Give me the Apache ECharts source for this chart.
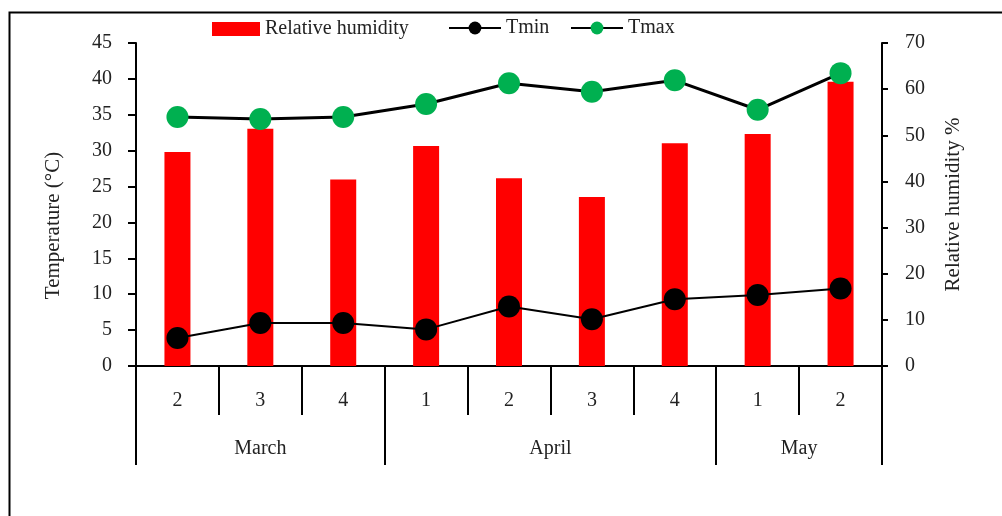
<!DOCTYPE html>
<html>
<head>
<meta charset="utf-8">
<script src="https://cdn.jsdelivr.net/npm/echarts@6/dist/echarts.min.js"></script>
<style>html,body{margin:0;padding:0;background:#fff;}#c{width:1002px;height:516px;}</style>
</head>
<body>
<div id="c"></div>
<script>
// ---- data ----
var weeks = ['2', '3', '4', '1', '2', '3', '4', '1', '2'];
var monthNames = ['March', 'April', 'May'];
var monthWeekCounts = [3, 4, 2];
var humidity = [46.4, 51.4, 40.4, 47.7, 40.7, 36.6, 48.3, 50.3, 61.6];
var tmin = [3.9, 6.0, 6.0, 5.1, 8.3, 6.5, 9.3, 9.9, 10.8];
var tmax = [34.7, 34.4, 34.7, 36.5, 39.4, 38.2, 39.8, 35.7, 40.8];
var tempTicks = [0, 5, 10, 15, 20, 25, 30, 35, 40, 45];
var humTicks = [0, 10, 20, 30, 40, 50, 60, 70];

// month group boundaries / centers in category units
var bounds = [0], centers = [];
monthWeekCounts.forEach(function (n, i) {
  var s = bounds[bounds.length - 1];
  bounds.push(s + n);
  centers.push(s + n / 2);
});
function monthLabel(v) {
  for (var i = 0; i < centers.length; i++) if (Math.abs(centers[i] - v) < 1e-6) return monthNames[i];
  return '';
}

var FONT = 'Liberation Serif';
var TXT = '#222';
var FS = 20;
var chart = echarts.init(document.getElementById('c'), null, { renderer: 'canvas' });
chart.setOption({
  animation: false,
  textStyle: { fontFamily: FONT, color: TXT },
  graphic: [{
    type: 'rect', left: 7, top: 10, z: 100,
    shape: { width: 1100, height: 600 },
    style: { fill: 'none', stroke: '#000', lineWidth: 2 }
  }],
  legend: [
    { left: 212, top: 19, padding: 0, itemWidth: 48, itemHeight: 14, itemGap: 5,
      icon: 'rect', itemStyle: { borderWidth: 0 },
      textStyle: { fontFamily: FONT, fontSize: FS, color: TXT }, data: ['Relative humidity'] },
    { left: 448, top: 18, padding: 0, itemWidth: 52, itemHeight: 16,
      textStyle: { fontFamily: FONT, fontSize: FS, color: TXT }, data: ['Tmin'] },
    { left: 570, top: 18, padding: 0, itemWidth: 52, itemHeight: 16,
      itemStyle: { borderWidth: 0 },
      textStyle: { fontFamily: FONT, fontSize: FS, color: TXT }, data: ['Tmax'] }
  ],
  grid: { left: 136, right: 120, top: 43, bottom: 150 },
  xAxis: [{
    type: 'category', data: weeks, position: 'bottom',
    axisLine: { show: true, lineStyle: { color: '#000', width: 2 } },
    axisTick: { show: true, interval: 0, length: 49, lineStyle: { color: '#000', width: 2 } },
    axisLabel: { interval: 0, margin: 25, fontSize: FS, fontFamily: FONT, color: TXT }
  }, {
    type: 'value', min: bounds[0], max: bounds[bounds.length - 1], position: 'bottom',
    axisLine: { show: false },
    splitLine: { show: false },
    axisTick: { show: true, customValues: bounds, length: 99, lineStyle: { color: '#000', width: 2 } },
    axisLabel: { customValues: centers, formatter: monthLabel, margin: 73, fontSize: FS, fontFamily: FONT, color: TXT }
  }],
  yAxis: [{
    type: 'value', min: 0, max: 45, interval: 5, position: 'left',
    name: 'Temperature (°C)', nameLocation: 'middle', nameGap: 72,
    nameTextStyle: { fontSize: 21, fontFamily: FONT, color: TXT, padding: [0, 42, 0, 0] },
    axisLine: { show: true, lineStyle: { color: '#000', width: 2 } },
    axisTick: { show: true, length: 8, lineStyle: { color: '#000', width: 2 } },
    axisLabel: { margin: 24, fontSize: FS, fontFamily: FONT, color: TXT,
      customValues: tempTicks },
    splitLine: { show: false }
  }, {
    type: 'value', min: 0, max: 70, interval: 10, position: 'right',
    name: 'Relative humidity %', nameLocation: 'middle', nameGap: 61,
    nameTextStyle: { fontSize: 21, fontFamily: FONT, color: TXT },
    axisLine: { show: true, lineStyle: { color: '#000', width: 2 } },
    axisTick: { show: true, length: 6, lineStyle: { color: '#000', width: 2 } },
    axisLabel: { margin: 23, fontSize: FS, fontFamily: FONT, color: TXT,
      customValues: humTicks },
    splitLine: { show: false }
  }],
  series: [{
    name: 'Relative humidity', type: 'bar', xAxisIndex: 0, yAxisIndex: 1,
    data: humidity, barWidth: 26, itemStyle: { color: '#FF0000', borderRadius: 0 }, z: 1
  }, {
    name: 'Tmin', type: 'line', xAxisIndex: 0, yAxisIndex: 0, data: tmin,
    symbol: 'circle', symbolSize: 22,
    lineStyle: { color: '#000', width: 2 }, itemStyle: { color: '#000' }, z: 3
  }, {
    name: 'Tmax', type: 'line', xAxisIndex: 0, yAxisIndex: 0, data: tmax,
    symbol: 'circle', symbolSize: 22,
    lineStyle: { color: '#000', width: 3 }, itemStyle: { color: '#00B050', borderWidth: 0 }, z: 4
  }]
});
</script>
</body>
</html>
